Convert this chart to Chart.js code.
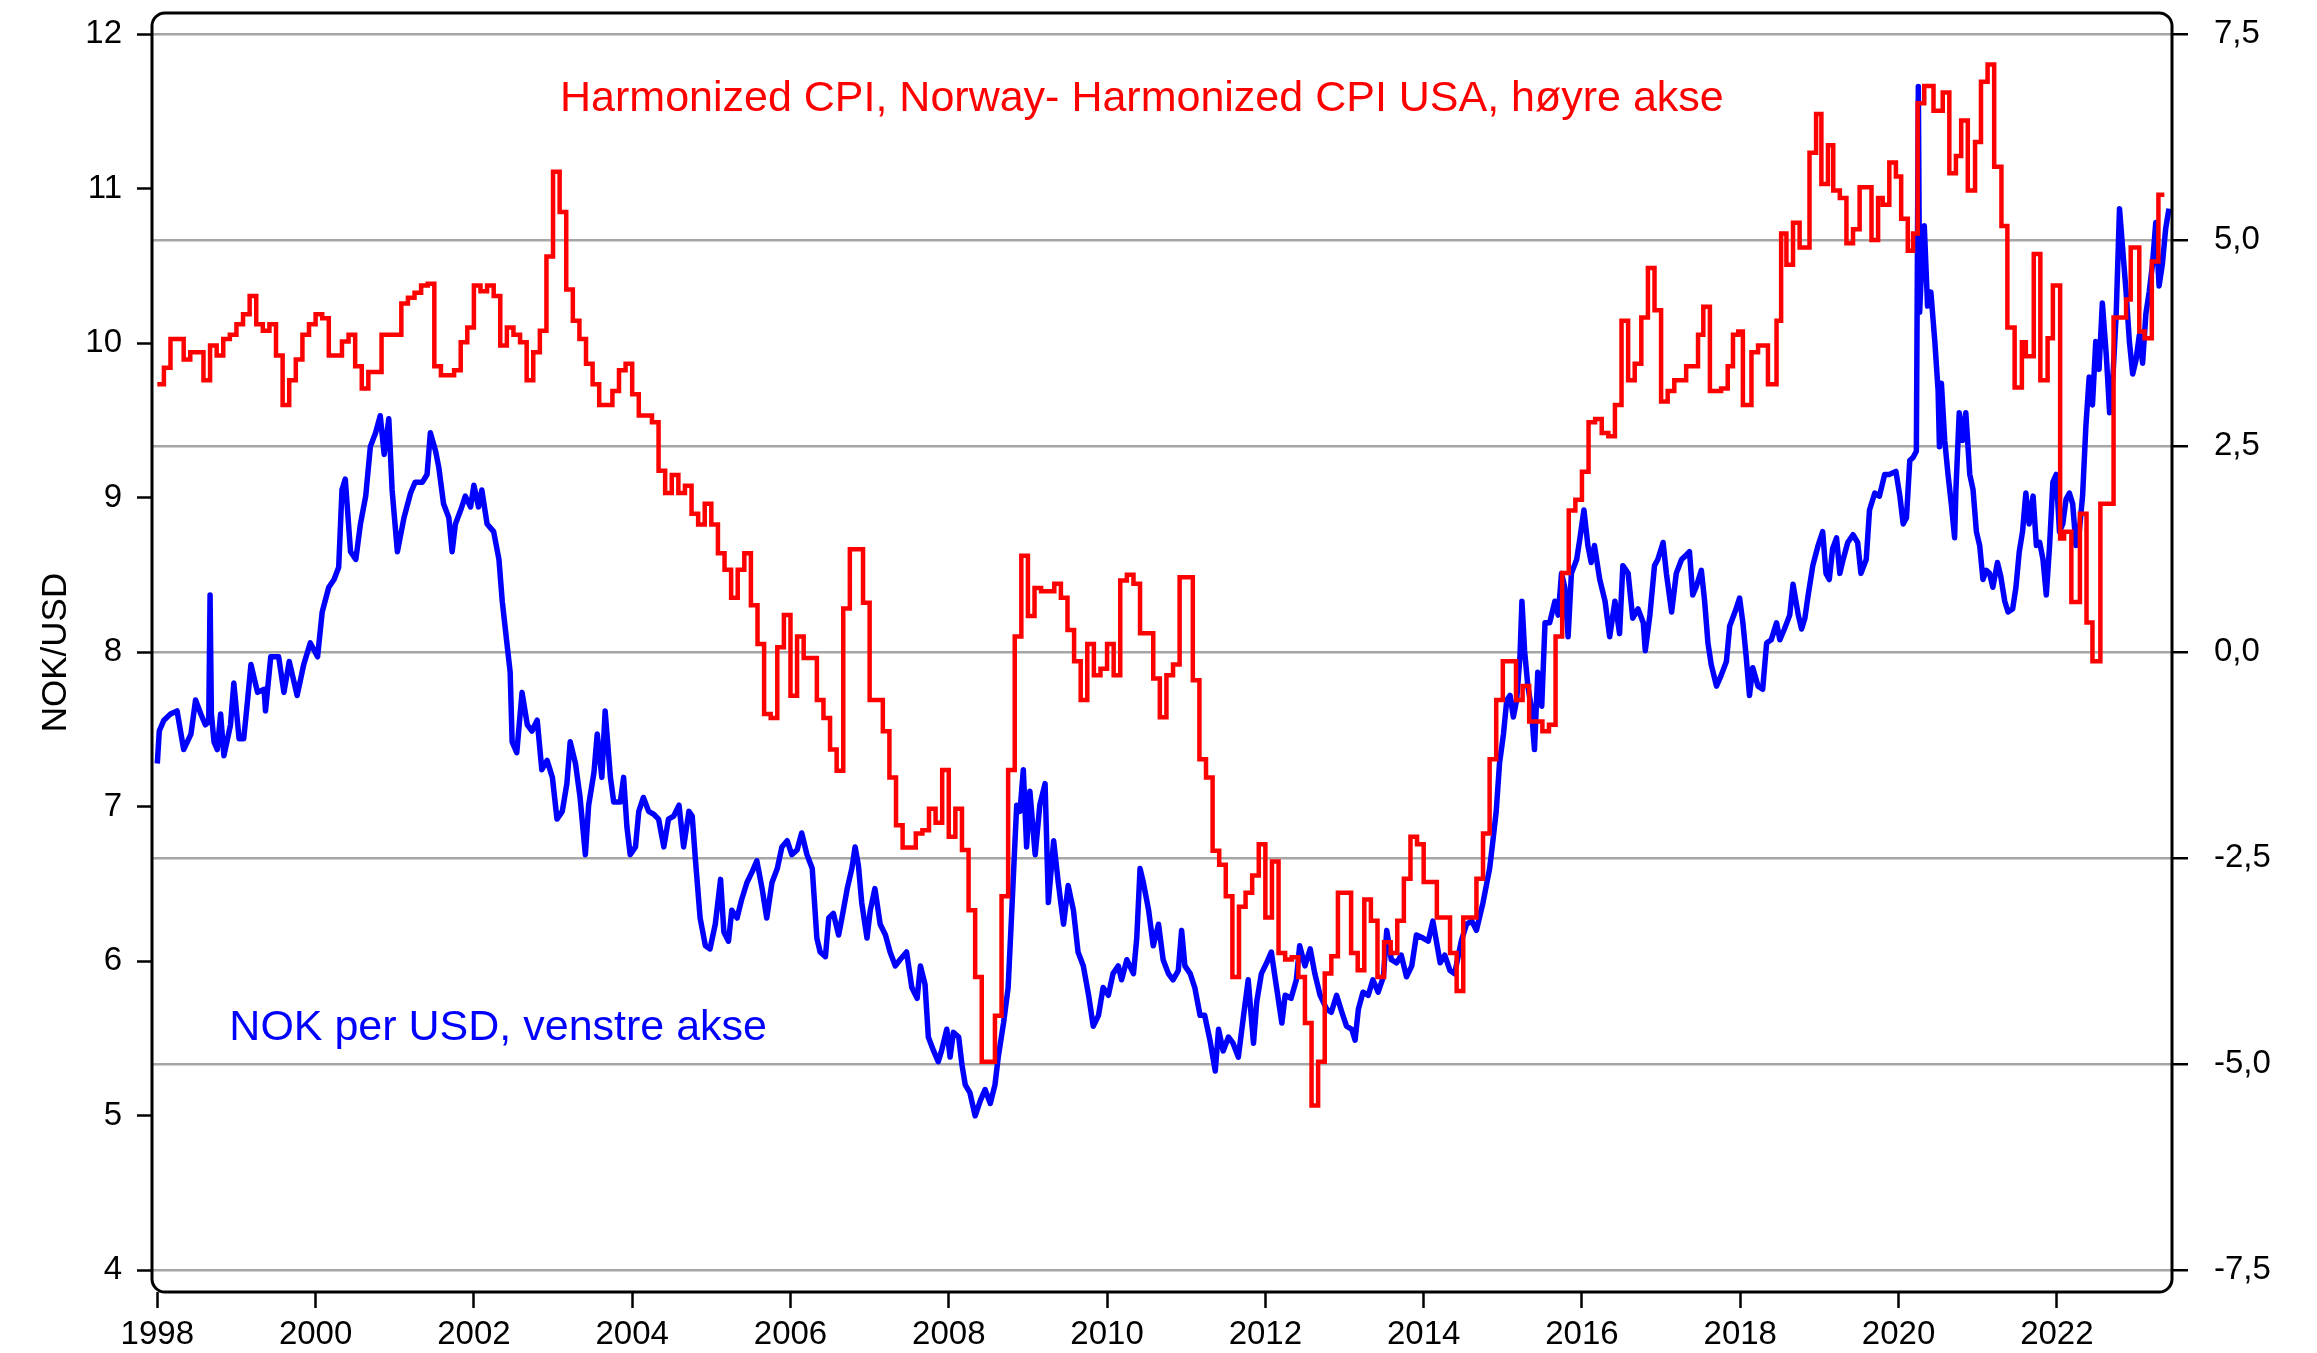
<!DOCTYPE html>
<html>
<head>
<meta charset="utf-8">
<title>NOK per USD og KPI-forskjell</title>
<script src="https://cdn.jsdelivr.net/npm/chart.js@4.4.1/dist/chart.umd.min.js"></script>
<style>
  html, body { margin: 0; padding: 0; background: #fff; }
  #fxChart { display: block; }
</style>
</head>
<body>
<canvas id="fxChart" width="2317" height="1353"></canvas>
<script>
/* ---------- DATA ---------- */

// x positions are months since Jan 1998
const yearTicks = [1998, 2000, 2002, 2004, 2006, 2008, 2010, 2012, 2014, 2016, 2018, 2020, 2022];
const nokTicks = [4, 5, 6, 7, 8, 9, 10, 11, 12];
const gapTicks = [-7.5, -5, -2.5, 0, 2.5, 5, 7.5];

// NOK per USD, left axis  [month, value]
const nokPerUsd = [
  [0,7.28],[0.3,7.49],[1,7.56],[2,7.6],[3,7.62],[4,7.37],[5.1,7.47],[5.8,7.69],[6.6,7.6],[7.3,7.53],[7.8,7.55],[8,8.37],[8.2,7.6],[8.6,7.42],[9.1,7.37],[9.6,7.6],[10.1,7.33],[11.1,7.53],[11.6,7.8],[12.4,7.44],[13.1,7.44],[13.6,7.65],[14.2,7.92],[15.2,7.74],[16.2,7.76],[16.4,7.62],[17.2,7.97],[18.4,7.97],[19.2,7.74],[20,7.94],[21.2,7.72],[22.2,7.92],[23.2,8.06],[24.3,7.97],[25,8.26],[26,8.42],[26.8,8.47],[27.5,8.55],[28,9.05],[28.5,9.12],[29.3,8.65],[30.1,8.6],[30.8,8.83],[31.6,9.01],[32.3,9.33],[33.1,9.42],[33.8,9.53],[34.4,9.28],[35.1,9.51],[35.6,9.05],[36.4,8.65],[37.4,8.87],
  [38.4,9.03],[39.1,9.1],[40.2,9.1],[40.9,9.15],[41.4,9.42],[42.2,9.3],[42.7,9.19],[43.4,8.96],[44.2,8.87],[44.7,8.65],[45.2,8.83],[46,8.92],[46.7,9.01],[47.5,8.94],[48,9.08],[48.7,8.94],[49.2,9.05],[50,8.83],[51,8.78],[51.8,8.6],[52.3,8.33],[53,8.06],[53.5,7.87],[53.8,7.42],[54.5,7.35],[55.3,7.74],[56.1,7.53],[56.8,7.49],[57.6,7.56],[58.3,7.24],[59.1,7.3],[59.9,7.19],[60.6,6.92],[61.4,6.97],[62.1,7.15],[62.6,7.42],[63.4,7.28],[64.1,7.06],[64.9,6.69],[65.4,7.01],[66.2,7.22],[66.7,7.47],[67.4,7.19],[67.9,7.62],[68.7,7.19],[69.2,7.03],[70.2,7.03],[70.7,7.19],[71.2,6.87],[71.7,6.69],[72.5,6.74],[73,6.97],[73.7,7.06],[74.5,6.97],[75.3,6.95],[76,6.92],[76.8,6.74],
  [77.5,6.92],[78.3,6.94],[79.1,7.01],[79.8,6.74],[80.6,6.97],[81.1,6.94],[81.6,6.65],[82.3,6.28],[83.1,6.1],[83.8,6.08],[84.6,6.24],[85.4,6.53],[85.9,6.19],[86.6,6.13],[87.1,6.33],[87.9,6.28],[88.6,6.4],[89.4,6.51],[90.2,6.58],[90.9,6.65],[91.7,6.47],[92.4,6.28],[93.2,6.51],[94,6.6],[94.7,6.74],[95.5,6.78],[96.2,6.69],[97,6.72],[97.7,6.83],[98.5,6.69],[99.3,6.6],[100,6.15],[100.5,6.06],[101.3,6.03],[101.8,6.28],[102.5,6.31],[103.3,6.17],[103.8,6.28],[104.6,6.47],[105.3,6.6],[105.8,6.74],[106.3,6.62],[106.8,6.38],[107.6,6.15],[108.1,6.33],[108.8,6.47],[109.6,6.24],[110.4,6.17],[111.1,6.06],[111.9,5.97],[112.6,6.01],[113.6,6.06],[114.4,5.83],[115.2,5.76],
  [115.7,5.97],[116.4,5.85],[116.9,5.51],[117.7,5.42],[118.4,5.35],[118.9,5.42],[119.7,5.56],[120.2,5.38],[120.7,5.54],[121.5,5.51],[122,5.33],[122.5,5.2],[123.2,5.15],[124,5.0],[124.8,5.1],[125.5,5.17],[126.3,5.08],[127,5.2],[127.5,5.38],[128.3,5.6],[129,5.83],[129.5,6.28],[130,6.74],[130.3,7.01],[130.8,6.97],[131.3,7.24],[131.8,6.74],[132.3,7.1],[133.1,6.69],[133.8,7.01],[134.6,7.15],[135.1,6.38],[135.9,6.78],[136.6,6.51],[137.4,6.24],[138.1,6.49],[138.9,6.33],[139.6,6.06],[140.4,5.97],[141.2,5.78],[141.9,5.58],[142.7,5.65],[143.4,5.83],[144.2,5.78],[144.9,5.92],[145.7,5.97],[146.2,5.88],[147,6.01],[148,5.92],[148.5,6.15],[149,6.6],[149.5,6.51],[150.3,6.33],[151,6.1],[151.8,6.24],[152.5,6.01],[153.3,5.92],[154,5.88],
  [154.8,5.94],[155.3,6.2],[155.8,5.97],[156.6,5.92],[157.3,5.83],[158.1,5.65],[158.8,5.65],[159.6,5.49],[160.4,5.29],[160.9,5.56],[161.6,5.42],[162.4,5.51],[163.1,5.47],[163.9,5.38],[164.7,5.65],[165.4,5.88],[166.2,5.47],[166.7,5.74],[167.4,5.92],[168.2,5.99],[168.9,6.06],[169.7,5.83],[170.5,5.6],[171,5.78],[171.9,5.76],[172.7,5.88],[173.2,6.1],[174,5.97],[174.8,6.08],[175.5,5.92],[176.3,5.78],[177.3,5.69],[178,5.67],[178.8,5.78],[179.6,5.67],[180.3,5.58],[181.1,5.56],[181.6,5.49],[182.1,5.69],[182.8,5.8],[183.6,5.78],[184.3,5.88],[185.1,5.8],[185.9,5.9],[186.4,6.2],[187.1,6.01],[187.9,5.99],[188.6,6.04],[189.4,5.9],[190.2,5.97],[190.9,6.17],[191.9,6.15],[192.7,6.13],
  [193.4,6.26],[194.5,5.99],[195.2,6.04],[196,5.94],[196.7,5.92],[197.7,6.13],[198.5,6.24],[199.3,6.26],[200,6.2],[201,6.38],[201.5,6.49],[202,6.6],[202.5,6.78],[203,6.97],[203.5,7.28],[204.1,7.47],[204.6,7.69],[205.1,7.72],[205.6,7.58],[206.1,7.69],[206.6,7.97],[206.9,8.33],[207.3,8.01],[207.8,7.78],[208.3,7.65],[208.8,7.37],[209.3,7.87],[209.9,7.65],[210.4,8.19],[211.1,8.19],[211.9,8.33],[212.4,8.24],[212.9,8.51],[213.4,8.42],[213.9,8.1],[214.4,8.51],[215.2,8.6],[215.7,8.74],[216.3,8.92],[216.9,8.69],[217.4,8.58],[217.9,8.69],[218.7,8.47],[219.5,8.33],[220.2,8.1],[221,8.33],[221.7,8.12],[222.2,8.56],[223,8.51],[223.7,8.22],[224.5,8.28],[225.3,8.19],[225.6,8.01],[226.3,8.24],[227,8.56],[227.5,8.6],[228.3,8.71],[228.8,8.51],[229.6,8.26],[230.3,8.51],[231.1,8.6],
  [231.6,8.62],[232.3,8.65],[232.8,8.37],[233.3,8.42],[234.1,8.53],[234.6,8.33],[235.1,8.06],[235.6,7.92],[236.4,7.78],[237.1,7.85],[237.9,7.94],[238.4,8.17],[239.2,8.26],[239.9,8.35],[240.4,8.19],[240.9,7.97],[241.4,7.72],[241.9,7.9],[242.7,7.78],[243.4,7.76],[244,8.06],[244.7,8.08],[245.5,8.19],[246,8.08],[246.7,8.15],[247.5,8.24],[248,8.44],[248.8,8.24],[249.3,8.15],[249.8,8.22],[250.3,8.37],[251,8.56],[251.8,8.69],[252.5,8.78],[253,8.51],[253.5,8.47],[254,8.67],[254.6,8.74],[255.1,8.51],[255.6,8.6],[256.3,8.71],[257.1,8.76],[257.8,8.71],[258.3,8.51],[259.1,8.6],[259.6,8.92],[260.4,9.03],[261.1,9.01],[261.9,9.15],[262.6,9.15],[263.6,9.17],[264.2,9.01],[264.7,8.83],[265.2,8.87],[265.7,9.24],[266.2,9.26],[266.7,9.3],[267,11.66],[267.2,10.2],[267.5,10.5],[267.9,10.76],[268.4,10.24],[268.9,10.33],[269.5,10.01],
  [270,9.69],[270.2,9.33],[270.5,9.74],[271,9.37],[271.5,9.15],[272,8.96],[272.5,8.74],[272.7,9.05],[273.2,9.55],[273.7,9.37],[274.2,9.55],[274.8,9.15],[275.3,9.05],[275.8,8.78],[276.3,8.69],[276.8,8.47],[277.3,8.53],[277.8,8.51],[278.3,8.42],[279,8.58],[279.5,8.49],[280.1,8.33],[280.6,8.26],[281.3,8.28],[281.8,8.42],[282.3,8.65],[282.8,8.78],[283.3,9.03],[283.8,8.83],[284.4,9.01],[284.9,8.69],[285.4,8.71],[285.9,8.6],[286.4,8.37],[286.9,8.69],[287.4,9.1],[287.9,9.15],[288.4,8.78],[288.9,8.83],[289.4,8.99],[289.9,9.03],[290.4,8.96],[290.9,8.69],[291.4,8.78],[291.9,9.01],[292.4,9.46],[292.9,9.78],[293.4,9.6],[293.9,10.01],[294.4,9.83],[294.9,10.26],[295.5,9.92],[296,9.55],[296.5,9.78],[297,10.19],[297.5,10.87],[298,10.6],[298.5,10.33],[299,10.01],[299.5,9.8],[300,9.89],[300.5,10.05],[301,9.87],[301.5,10.19],[302,10.33],[302.5,10.51],[303,10.78],[303.5,10.37],[304,10.51],[304.5,10.74],[305,10.87]
];

// HICP Norway minus HICP USA, right axis  [month the level starts, value]
const cpiGap = [
  [0,3.25],[1,3.45],[2,3.8],[3,3.8],[4,3.55],[5,3.64],[6,3.64],[7,3.3],[8,3.72],[9,3.6],[10,3.8],[11,3.85],[12,3.98],[13,4.1],[14,4.32],[15,3.98],[16,3.9],[17,3.98],[18,3.6],[19,3.0],[20,3.3],[21,3.55],[22,3.85],[23,3.98],[24,4.1],[25,4.05],[26,3.6],[27,3.6],[28,3.77],[29,3.85],[30,3.47],[31,3.2],[32,3.4],[33,3.4],[34,3.85],[35,3.85],[36,3.85],[37,4.23],
  [38,4.3],[39,4.36],[40,4.45],[41,4.47],[42,3.47],[43,3.36],[44,3.36],[45,3.42],[46,3.76],[47,3.94],[48,4.45],[49,4.38],[50,4.45],[51,4.32],[52,3.72],[53,3.94],[54,3.85],[55,3.76],[56,3.3],[57,3.64],[58,3.9],[59,4.8],[60,5.83],[61,5.34],[62,4.4],[63,4.02],[64,3.8],[65,3.5],[66,3.25],[67,3.0],[68,3.0],[69,3.17],[70,3.42],[71,3.5],[72,3.13],[73,2.87],[74,2.87],[75,2.79],
  [76,2.2],[77,1.93],[78,2.15],[79,1.93],[80,2.02],[81,1.68],[82,1.55],[83,1.8],[84,1.55],[85,1.2],[86,1.0],[87,0.66],[88,1.0],[89,1.2],[90,0.57],[91,0.1],[92,-0.75],[93,-0.8],[94,0.06],[95,0.45],[96,-0.53],[97,0.19],[98,-0.07],[99,-0.07],[100,-0.58],[101,-0.8],[102,-1.18],[103,-1.44],[104,0.53],[105,1.25],[106,1.25],[107,0.6],[108,-0.58],[109,-0.58],[110,-0.96],[111,-1.52],[112,-2.1],[113,-2.37],[114,-2.37],
  [115,-2.2],[116,-2.16],[117,-1.9],[118,-2.07],[119,-1.43],[120,-2.24],[121,-1.9],[122,-2.4],[123,-3.13],[124,-3.94],[125,-4.97],[126,-4.97],[127,-4.41],[128,-2.96],[129,-1.43],[130,0.19],[131,1.17],[132,0.44],[133,0.78],[134,0.74],[135,0.74],[136,0.83],[137,0.66],[138,0.27],[139,-0.11],[140,-0.58],[141,0.1],[142,-0.28],[143,-0.2],[144,0.1],[145,-0.28],[146,0.87],[147,0.94],[148,0.83],[149,0.23],[150,0.23],[151,-0.32],[152,-0.79],[153,-0.28],[154,-0.15],
  [155,0.91],[156,0.91],[157,-0.34],[158,-1.3],[159,-1.52],[160,-2.41],[161,-2.58],[162,-2.96],[163,-3.94],[164,-3.09],[165,-2.92],[166,-2.71],[167,-2.33],[168,-3.22],[169,-2.54],[170,-3.65],[171,-3.73],[172,-3.7],[173,-3.94],[174,-4.5],[175,-5.5],[176,-4.97],[177,-3.9],[178,-3.69],[179,-2.92],[180,-2.92],[181,-3.65],[182,-3.86],[183,-3.0],[184,-3.26],[185,-3.94],[186,-3.52],[187,-3.65],[188,-3.26],[189,-2.75],[190,-2.24],[191,-2.33],
  [192,-2.79],[193,-2.79],[194,-3.22],[195,-3.22],[196,-3.65],[197,-4.11],[198,-3.22],[199,-3.22],[200,-2.75],[201,-2.2],[202,-1.3],[203,-0.58],[204,-0.11],[205,-0.11],[206,-0.58],[207,-0.41],[208,-0.84],[209,-0.84],[210,-0.96],[211,-0.88],[212,0.19],[213,0.96],[214,1.72],[215,1.85],[216,2.19],[217,2.79],[218,2.83],[219,2.66],[220,2.62],[221,3.0],[222,4.02],[223,3.3],[224,3.5],[225,4.06],[226,4.66],[227,4.15],[228,3.04],[229,3.17],[230,3.3],
  [231.8,3.47],[233.6,3.85],[234.4,4.19],[235.4,3.17],[237.1,3.2],[238.1,3.47],[238.9,3.85],[239.7,3.89],[240.4,3.0],[241.7,3.64],[242.7,3.72],[244.2,3.25],[245.5,4.02],[246.2,5.08],[247,4.7],[248,5.21],[249,4.91],[250.5,6.06],[251.5,6.53],[252.3,5.68],[253.3,6.15],[254.1,5.6],[255.1,5.51],[256.1,4.96],[257.1,5.13],[258.1,5.64],[259.9,5.0],[260.9,5.51],[261.6,5.43],[262.6,5.94],[263.6,5.77],[264.4,5.26],[265.4,4.87],[266.2,5.08],[266.9,6.66],[267.9,6.87],
  [269.3,6.57],[270.7,6.79],[271.7,5.81],[272.7,6.02],[273.5,6.45],[274.5,5.6],[275.6,6.19],[276.5,6.92],[277.5,7.13],[278.5,5.89],[279.6,5.17],[280.5,3.94],[281.6,3.21],[282.7,3.76],[283.3,3.59],[284.5,4.83],[285.5,3.3],[286.6,3.81],[287.4,4.45],[288.5,1.38],[289.1,1.46],[290.2,0.61],[291.5,1.68],[292.5,0.36],[293.4,-0.11],[294.6,1.8],[296.6,4.06],[298.5,4.28],[299.2,4.91],[300.5,3.89],[301.3,3.81],[302.4,4.74],[303.4,5.55],[304.3,5.55]
];

/* ---------- HELPERS ---------- */

const FONT = "'Liberation Sans', Arial, Helvetica, sans-serif";
Chart.defaults.font.family = FONT;
Chart.defaults.color = '#000';

const toYear = m => 1998 + m / 12;
const toPoints = rows => rows.map(([m, v]) => ({ x: toYear(m), y: v }));
const setTicks = list => scale => { scale.ticks = list.map(v => ({ value: v })); };

// fixed axis sizes, no extra label padding, so the plot box lands where the reference has it
const fitV = w => s => { s.width = w; s.paddingTop = 0; s.paddingBottom = 0; };
const fitH = h => s => { s.height = h; s.paddingLeft = 0; s.paddingRight = 0; };

// rounded frame round the plot area
const frame = {
  id: 'frame',
  afterDraw(chart) {
    const { ctx, chartArea: a } = chart;
    const r = 13;
    ctx.save();
    ctx.strokeStyle = '#000';
    ctx.lineWidth = 3;
    ctx.beginPath();
    ctx.moveTo(a.left + r, a.top);
    ctx.lineTo(a.right - r, a.top);
    ctx.arcTo(a.right, a.top, a.right, a.top + r, r);
    ctx.lineTo(a.right, a.bottom - r);
    ctx.arcTo(a.right, a.bottom, a.right - r, a.bottom, r);
    ctx.lineTo(a.left + r, a.bottom);
    ctx.arcTo(a.left, a.bottom, a.left, a.bottom - r, r);
    ctx.lineTo(a.left, a.top + r);
    ctx.arcTo(a.left, a.top, a.left + r, a.top, r);
    ctx.closePath();
    ctx.stroke();
    ctx.restore();
  }
};

// series captions inside the plot
const captions = {
  id: 'captions',
  afterDraw(chart) {
    const { ctx, scales: { x, y } } = chart;
    ctx.save();
    ctx.font = '43px ' + FONT;
    ctx.textBaseline = 'middle';
    ctx.fillStyle = '#ff0000';
    ctx.textAlign = 'center';
    ctx.fillText('Harmonized CPI, Norway- Harmonized CPI USA, høyre akse',
      x.getPixelForValue(2010.44), y.getPixelForValue(11.58));
    ctx.fillStyle = '#0000ff';
    ctx.textAlign = 'left';
    ctx.fillText('NOK per USD, venstre akse',
      x.getPixelForValue(1998.91), y.getPixelForValue(5.57));
    ctx.restore();
  }
};

/* ---------- CHART ---------- */

try {
  new Chart(document.getElementById('fxChart'), {
    type: 'line',
    data: {
      datasets: [
        {
          label: 'Harmonized CPI, Norway- Harmonized CPI USA',
          data: toPoints(cpiGap),
          yAxisID: 'y2',
          borderColor: '#ff0000',
          borderWidth: 4.5,
          stepped: 'before',
          pointRadius: 0,
          borderJoinStyle: 'miter',
          order: 0
        },
        {
          label: 'NOK per USD',
          data: toPoints(nokPerUsd),
          yAxisID: 'y',
          borderColor: '#0000ff',
          borderWidth: 5.5,
          pointRadius: 0,
          tension: 0,
          borderJoinStyle: 'round',
          order: 1
        }
      ]
    },
    options: {
      responsive: false,
      animation: false,
      parsing: false,
      layout: { padding: { top: 13, left: 0, right: 0, bottom: 0 } },
      plugins: { legend: { display: false }, tooltip: { enabled: false } },
      scales: {
        x: {
          type: 'linear',
          min: 1997.933,
          max: 2023.455,
          bounds: 'data',
          afterBuildTicks: setTicks(yearTicks),
          afterFit: fitH(61),
          border: { display: false },
          grid: { drawOnChartArea: false, drawTicks: true, tickLength: 16, tickColor: '#000', tickWidth: 2.5 },
          ticks: { autoSkip: false, maxRotation: 0, padding: 7, font: { size: 33 }, callback: v => String(v) }
        },
        y: {
          type: 'linear',
          position: 'left',
          min: 3.86,
          max: 12.136,
          bounds: 'data',
          afterBuildTicks: setTicks(nokTicks),
          afterFit: fitV(152),
          border: { display: false },
          grid: { drawOnChartArea: false, drawTicks: true, tickLength: 15, tickColor: '#000', tickWidth: 2.5 },
          ticks: { padding: 15, font: { size: 33 }, callback: v => String(v) },
          title: { display: true, text: 'NOK/USD', font: { size: 35 }, color: '#000', padding: { top: 35, bottom: 0 } }
        },
        y2: {
          type: 'linear',
          position: 'right',
          min: -7.763,
          max: 7.755,
          bounds: 'data',
          afterBuildTicks: setTicks(gapTicks),
          afterFit: fitV(145),
          border: { display: false },
          grid: { drawOnChartArea: true, drawTicks: true, color: '#a6a6a6', lineWidth: 2.5, tickLength: 16, tickColor: '#000', tickWidth: 2.5 },
          ticks: { padding: 26, font: { size: 33 }, callback: v => v.toFixed(1).replace('.', ',') }
        }
      }
    },
    plugins: [frame, captions]
  });
} catch (e) {
  console.error('Error initializing chart:', e);
}
</script>
</body>
</html>
